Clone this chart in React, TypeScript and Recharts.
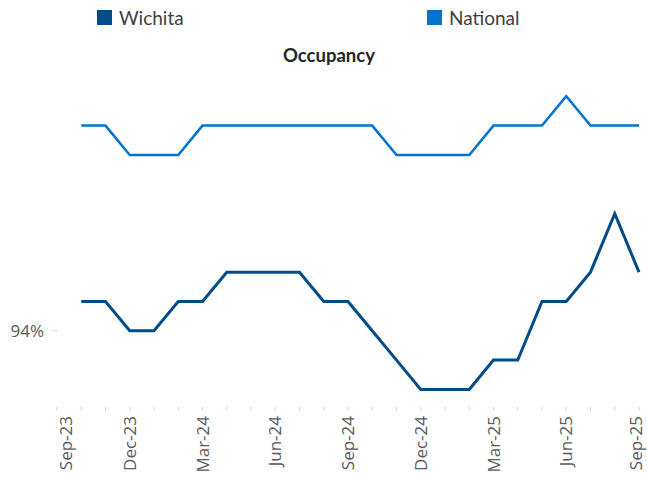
import { LineChart, Line, XAxis, YAxis } from "recharts";

const months = [
  "Sep-23", "Oct-23", "Nov-23", "Dec-23", "Jan-24", "Feb-24", "Mar-24", "Apr-24", "May-24",
  "Jun-24", "Jul-24", "Aug-24", "Sep-24", "Oct-24", "Nov-24", "Dec-24", "Jan-25", "Feb-25",
  "Mar-25", "Apr-25", "May-25", "Jun-25", "Jul-25", "Aug-25", "Sep-25",
];

const wichita = [
  null, 94.1, 94.1, 94.0, 94.0, 94.1, 94.1, 94.2, 94.2, 94.2, 94.2, 94.1, 94.1,
  94.0, 93.9, 93.8, 93.8, 93.8, 93.9, 93.9, 94.1, 94.1, 94.2, 94.4, 94.2,
];

const national = [
  null, 94.7, 94.7, 94.6, 94.6, 94.6, 94.7, 94.7, 94.7, 94.7, 94.7, 94.7, 94.7,
  94.7, 94.6, 94.6, 94.6, 94.6, 94.7, 94.7, 94.7, 94.8, 94.7, 94.7, 94.7,
];

const yTicks = [94];

const data = months.map((month, i) => ({ month, wichita: wichita[i], national: national[i] }));

const WICHITA = "#004C89";
const NATIONAL = "#0074CF";
const AXIS_TEXT = "#595959";

const MonthTick = (props: any) => {
  const { x, y, payload } = props;
  const i = months.indexOf(payload.value);
  if (i % 3 !== 0) return null;
  // first and last labels are nudged inward, as in the original
  const shift = i === 0 ? 9 : i === months.length - 1 ? -3 : 0;
  return (
    <g transform={`translate(${x + shift},${y})`}>
      <text
        x={0}
        y={0}
        dy="0.36em"
        textAnchor="end"
        transform="rotate(-90)"
        fill={AXIS_TEXT}
        fontSize={17}
        fontFamily="'Open Sans', sans-serif"
      >
        {payload.value}
      </text>
    </g>
  );
};

const LegendItem = ({ color, label, left }: { color: string; label: string; left: number }) => (
  <div style={{ position: "absolute", left, top: 8, display: "flex", alignItems: "center" }}>
    <span style={{ width: 15, height: 15, background: color, display: "inline-block", marginRight: 7 }} />
    <span style={{ fontSize: 19, color: "#404040", lineHeight: "19px" }}>{label}</span>
  </div>
);

export default function App() {
  return (
    <div
      style={{
        position: "absolute",
        left: 0,
        top: 0,
        width: 647,
        height: 477,
        background: "#fff",
        fontFamily: "Lato, 'Open Sans', sans-serif",
      }}
    >
      <LegendItem color={WICHITA} label="Wichita" left={97} />
      <LegendItem color={NATIONAL} label="National" left={427} />
      <div
        style={{
          position: "absolute",
          left: 0,
          width: 658,
          top: 44,
          textAlign: "center",
          fontWeight: 700,
          fontSize: 18.5,
          color: "#262626",
        }}
      >
        Occupancy
      </div>
      <LineChart width={647} height={477} data={data} margin={{ top: 67, right: 8, bottom: 0, left: 0 }}>
        <XAxis
          dataKey="month"
          interval={0}
          axisLine={false}
          tickLine={{ stroke: "#d9d9d9" }}
          tickSize={4}
          tickMargin={5}
          height={70}
          tick={<MonthTick />}
        />
        <YAxis
          domain={[93.74, 94.9]}
          allowDataOverflow
          ticks={yTicks}
          tickFormatter={(v: number) => `${v}%`}
          axisLine={false}
          tickLine={{ stroke: "#d9d9d9" }}
          tickSize={5}
          tickMargin={8}
          width={57}
          tick={{ fill: AXIS_TEXT, fontSize: 17, fontFamily: "'Open Sans', sans-serif" }}
        />
        <Line
          type="linear"
          dataKey="national"
          stroke={NATIONAL}
          strokeWidth={2.5}
          dot={false}
          isAnimationActive={false}
        />
        <Line
          type="linear"
          dataKey="wichita"
          stroke={WICHITA}
          strokeWidth={3}
          dot={false}
          isAnimationActive={false}
        />
      </LineChart>
    </div>
  );
}
